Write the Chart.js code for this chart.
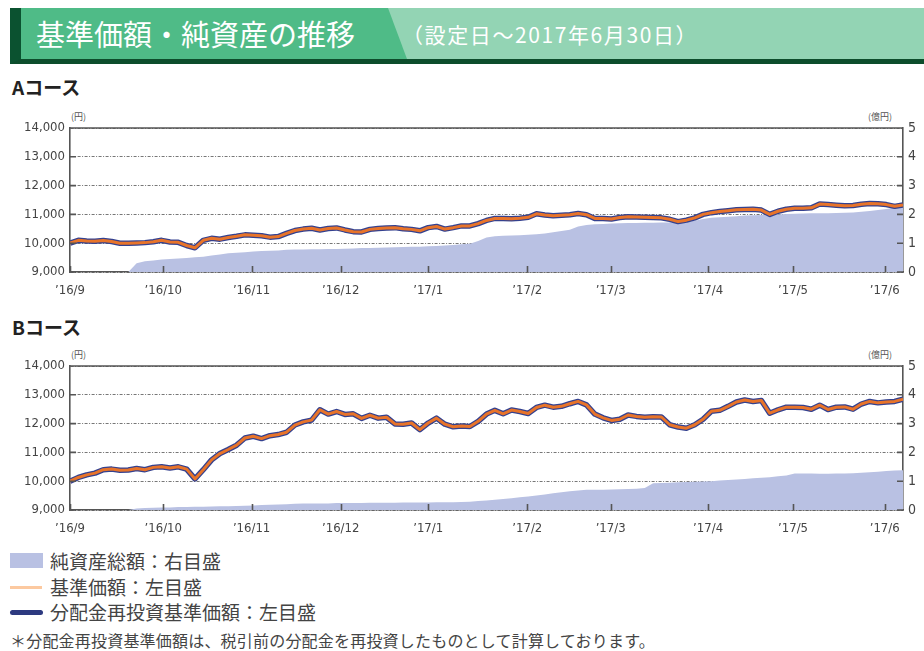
<!DOCTYPE html>
<html lang="ja">
<head>
<meta charset="utf-8">
<script src="https://cdn.jsdelivr.net/npm/chart.js@4.4.1/dist/chart.umd.min.js"></script>
<style>
  html, body { margin: 0; padding: 0; background: #fff; }
  body { width: 924px; height: 651px; position: relative; overflow: hidden;
         font-family: "Noto Sans CJK JP", "Noto Sans", sans-serif; color: #333; }
  .abs { position: absolute; }
  #banner { left: 10px; top: 8px; width: 903px; height: 51px; background: #93d4b4;
            border-left: 11px solid #0b5230; border-bottom: 5px solid #0d4d2c; }
  #bannerDark { left: 0; top: 0; width: 386px; height: 51px; background: #4fbb87;
                clip-path: polygon(0 0, 367px 0, 386px 100%, 0 100%); }
  #title { left: 15px; top: 5px; font-size: 29px; line-height: 40px; color: #fff; white-space: nowrap; }
  #subtitle { left: 381px; top: 11px; font-size: 21px; line-height: 30px; color: #fff; white-space: nowrap; letter-spacing: 1.6px; }
  .course { left: 12px; font-size: 19px; font-weight: 700; color: #222; line-height: 22px; }
  .unit { font-size: 9px; color: #555; line-height: 10px; }
  canvas { position: absolute; left: 0; }
  .leg { left: 10px; height: 24px; }
  .leg span.t { position: absolute; left: 40px; top: 0; font-size: 19px; line-height: 24px; color: #444; white-space: nowrap; }
  .sw { position: absolute; left: 0; }
  #note { left: 10px; top: 630px; font-size: 16px; line-height: 20px; color: #444; white-space: nowrap; letter-spacing: 0.2px; }
</style>
</head>
<body>
<div id="banner" class="abs">
  <div id="bannerDark" class="abs"></div>
  <div id="title" class="abs">基準価額・純資産の推移</div>
  <div id="subtitle" class="abs">（設定日～2017年6月30日）</div>
</div>

<div class="abs course" style="top:76px">Aコース</div>
<div class="abs unit" style="left:71px;top:112px">(円)</div>
<div class="abs unit" style="left:868px;top:112px">(億円)</div>
<canvas id="chartA" width="924" height="200" style="top:100px"></canvas>

<div class="abs course" style="top:316px">Bコース</div>
<div class="abs unit" style="left:71px;top:350px">(円)</div>
<div class="abs unit" style="left:868px;top:350px">(億円)</div>
<canvas id="chartB" width="924" height="200" style="top:338px"></canvas>

<div class="abs leg" style="top:549px">
  <div class="sw" style="top:4px;width:33px;height:15px;background:#b9c1e3"></div>
  <span class="t">純資産総額：右目盛</span>
</div>
<div class="abs leg" style="top:575px">
  <div class="sw" style="top:11px;width:32px;height:3px;background:#fcc9a0"></div>
  <span class="t">基準価額：左目盛</span>
</div>
<div class="abs leg" style="top:600px">
  <div class="sw" style="top:10px;width:33px;height:5px;border-radius:3px;background:#2d3a80"></div>
  <span class="t">分配金再投資基準価額：左目盛</span>
</div>
<div id="note" class="abs">＊分配金再投資基準価額は、税引前の分配金を再投資したものとして計算しております。</div>

<script>
// month tick positions on the x index scale, with their labels
const monthLabels = [ '’16/9', '’16/10', '’16/11', '’16/12', '’17/1', '’17/2', '’17/3', '’17/4', '’17/5', '’17/6' ]
const monthPos = [ 0, 11.2, 21.8, 32.5, 43.0, 54.9, 64.9, 76.6, 86.8, 97.8 ]

// Aコース: 基準価額 (円)
const priceA = [
   10000, 10100, 10080, 10070, 10090, 10060, 10000, 10000, 10010, 10020,
   10050, 10100, 10040, 10030, 9920, 9840, 10100, 10170, 10140, 10200,
   10240, 10290, 10280, 10260, 10210, 10230, 10340, 10440, 10490, 10520,
   10460, 10510, 10530, 10460, 10400, 10390, 10480, 10510, 10530, 10540,
   10500, 10480, 10430, 10540, 10580, 10490, 10540, 10600, 10600, 10680,
   10790, 10860, 10860, 10850, 10870, 10900, 11020, 10980, 10950, 10970,
   10990, 11030, 10990, 10860, 10860, 10840, 10890, 10920, 10910, 10900,
   10890, 10880, 10830, 10750, 10800, 10880, 11000, 11060, 11100, 11130,
   11160, 11170, 11180, 11150, 11000, 11110, 11180, 11210, 11210, 11230,
   11360, 11340, 11320, 11300, 11310, 11350, 11380, 11370, 11340, 11280,
   11330,
]
// Aコース: 分配金再投資基準価額 (円) — no distributions, same path
const reinvA = priceA.slice()
// Aコース: 純資産総額 (億円)
const assetsA = [
   0, 0, 0, 0, 0, 0, 0, 0, 0.30, 0.37,
   0.40, 0.43, 0.45, 0.47, 0.49, 0.51, 0.53, 0.57, 0.61, 0.65,
   0.67, 0.69, 0.71, 0.73, 0.74, 0.75, 0.77, 0.78, 0.78, 0.79,
   0.79, 0.80, 0.80, 0.81, 0.82, 0.83, 0.83, 0.84, 0.85, 0.86,
   0.87, 0.88, 0.88, 0.89, 0.90, 0.92, 0.94, 0.96, 0.98, 1.08,
   1.20, 1.24, 1.26, 1.27, 1.28, 1.29, 1.31, 1.34, 1.38, 1.42,
   1.47, 1.58, 1.63, 1.66, 1.67, 1.68, 1.69, 1.70, 1.70, 1.71,
   1.71, 1.72, 1.72, 1.72, 1.74, 1.78, 1.84, 1.88, 1.90, 1.92,
   1.94, 1.96, 1.97, 1.98, 1.99, 2.00, 2.01, 2.02, 2.03, 2.04,
   2.04, 2.04, 2.05, 2.06, 2.07, 2.09, 2.12, 2.15, 2.19, 2.24,
   2.28,
]

// Bコース: 基準価額 (円)
const priceB = [
   10000, 10130, 10220, 10280, 10400, 10420, 10380, 10390, 10440, 10400,
   10480, 10500, 10460, 10500, 10420, 10080, 10400, 10740, 10960, 11100,
   11250, 11500, 11560, 11480, 11580, 11620, 11700, 11950, 12060, 12120,
   12480, 12330, 12420, 12320, 12340, 12180, 12290, 12190, 12220, 11990,
   11980, 12020, 11790, 12020, 12190, 11980, 11890, 11920, 11900, 12080,
   12330, 12460, 12340, 12470, 12420, 12350, 12560, 12640, 12570, 12600,
   12690, 12770, 12650, 12330, 12200, 12110, 12150, 12300, 12250, 12220,
   12240, 12230, 11960, 11880, 11840, 11960, 12150, 12430, 12460, 12600,
   12750, 12820, 12770, 12800, 12360, 12480, 12570, 12570, 12560, 12500,
   12640, 12490, 12570, 12580, 12500, 12680, 12770, 12720, 12750, 12770,
   12850,
]
const reinvB = priceB.slice()
// Bコース: 純資産総額 (億円)
const assetsB = [
   0, 0, 0, 0, 0, 0, 0, 0, 0.05, 0.07,
   0.08, 0.09, 0.09, 0.10, 0.10, 0.11, 0.11, 0.12, 0.13, 0.13,
   0.14, 0.15, 0.16, 0.17, 0.18, 0.19, 0.20, 0.22, 0.23, 0.23,
   0.23, 0.23, 0.24, 0.24, 0.24, 0.24, 0.25, 0.25, 0.25, 0.25,
   0.26, 0.26, 0.26, 0.26, 0.27, 0.27, 0.27, 0.28, 0.29, 0.31,
   0.33, 0.36, 0.38, 0.41, 0.44, 0.47, 0.50, 0.54, 0.58, 0.62,
   0.65, 0.68, 0.70, 0.70, 0.70, 0.71, 0.72, 0.73, 0.74, 0.76,
   0.93, 0.94, 0.95, 0.96, 0.97, 0.98, 0.99, 1.00, 1.02, 1.04,
   1.06, 1.08, 1.10, 1.12, 1.14, 1.17, 1.20, 1.27, 1.27, 1.27,
   1.26, 1.26, 1.27, 1.27, 1.28, 1.29, 1.31, 1.33, 1.35, 1.37,
   1.38,
]

const numFont = { family: '"Liberation Sans Narrow", "DejaVu Sans Condensed", sans-serif', size: 13 }
const frameColor = '#555'

// top frame line plus the short inward tick marks
const framePlugin = {
   id: 'frame_ticks',
   afterDatasetsDraw( chart ) {
      const { ctx, chartArea: a, scales } = chart
      ctx.save()
      ctx.strokeStyle = frameColor
      ctx.lineWidth = 1.6
      ctx.beginPath()
      ctx.moveTo( a.left, a.top )
      ctx.lineTo( a.right, a.top )
      monthPos.forEach( ( p ) => {
         const x = Math.round( scales.x.getPixelForValue( p ) ) + 0.5
         ctx.moveTo( x, a.bottom )
         ctx.lineTo( x, a.bottom - 6 )
      } )
      scales.y.ticks.forEach( ( t ) => {
         const y = scales.y.getPixelForValue( t.value )
         ctx.moveTo( a.left, y )
         ctx.lineTo( a.left + 6, y )
      } )
      scales.y1.ticks.forEach( ( t ) => {
         const y = scales.y1.getPixelForValue( t.value )
         ctx.moveTo( a.right, y )
         ctx.lineTo( a.right - 6, y )
      } )
      ctx.stroke()
      ctx.restore()
   },
}

function makeChart( id, price, reinv, assets ) {
   const xIdx = price.map( ( _, i ) => i )
   return new Chart( document.getElementById( id ), {
      type: 'line',
      plugins: [ framePlugin ],
      data: {
         labels: xIdx,
         datasets: [
            {
               label: '基準価額',
               data: price,
               yAxisID: 'y',
               borderColor: '#e8742a',
               borderWidth: 3,
               borderJoinStyle: 'round',
               pointRadius: 0,
               tension: 0,
               order: 0,
            },
            {
               label: '分配金再投資基準価額',
               data: reinv,
               yAxisID: 'y',
               borderColor: '#34418f',
               borderWidth: 5.5,
               borderJoinStyle: 'round',
               pointRadius: 0,
               tension: 0,
               order: 1,
            },
            {
               label: '純資産総額',
               data: assets,
               yAxisID: 'y1',
               borderWidth: 0,
               backgroundColor: '#b9c1e3',
               fill: 'origin',
               pointRadius: 0,
               tension: 0,
               order: 2,
            },
         ],
      },
      options: {
         responsive: false,
         animation: false,
         layout: { padding: { top: 28, left: 0, right: 0, bottom: 0 } },
         plugins: { legend: { display: false }, tooltip: { enabled: false } },
         scales: {
            x: {
               type: 'linear',
               min: 0,
               max: 100,
               afterBuildTicks: ( s ) => { s.ticks = monthPos.map( ( v ) => ( { value: v } ) ) },
               afterFit: ( s ) => { s.height = 28 },
               grid: { drawOnChartArea: false, drawTicks: false },
               border: { display: true, color: frameColor, width: 1.6 },
               ticks: {
                  autoSkip: false,
                  maxRotation: 0,
                  padding: 11,
                  color: '#444',
                  font: numFont,
                  callback: ( v, i ) => monthLabels[ i ],
               },
            },
            y: {
               position: 'left',
               min: 9000,
               max: 14000,
               afterFit: ( s ) => { s.width = 70 },
               grid: { color: '#777', lineWidth: 1, drawTicks: false },
               border: { display: true, color: frameColor, width: 1.6, dash: [ 3, 1.5, 1, 1.5 ] },
               ticks: {
                  stepSize: 1000,
                  padding: 5,
                  color: '#444',
                  font: numFont,
                  callback: ( v ) => v.toLocaleString( 'en-US' ),
               },
            },
            y1: {
               position: 'right',
               min: 0,
               max: 5,
               afterFit: ( s ) => { s.width = 21 },
               grid: { drawOnChartArea: false, drawTicks: false },
               border: { display: true, color: frameColor, width: 1.6 },
               ticks: {
                  stepSize: 1,
                  padding: 5,
                  color: '#444',
                  font: { family: numFont.family, size: 14 },
               },
            },
         },
      },
   } )
}

makeChart( 'chartA', priceA, reinvA, assetsA )
makeChart( 'chartB', priceB, reinvB, assetsB )
</script>
</body>
</html>
